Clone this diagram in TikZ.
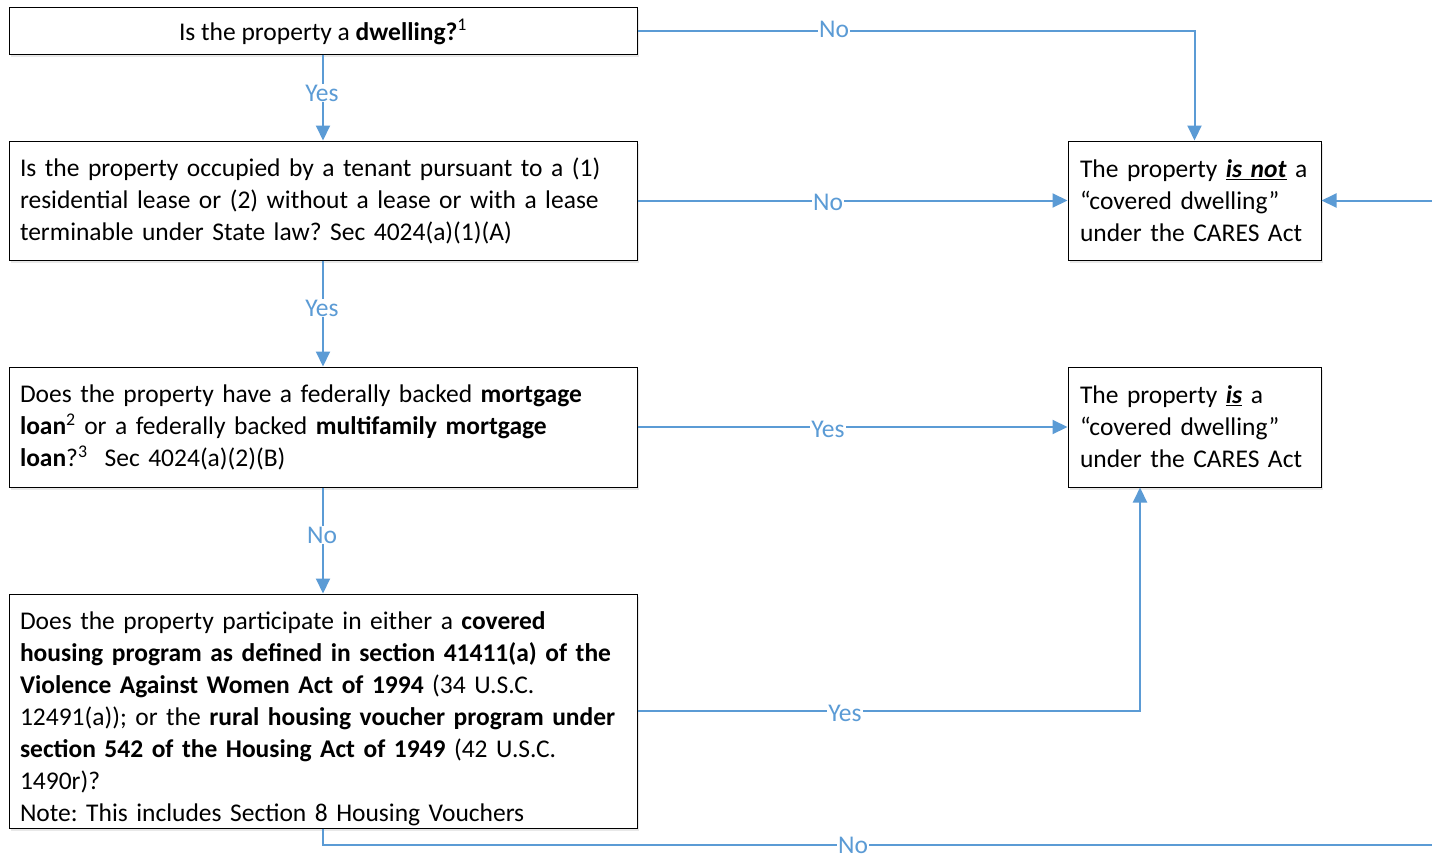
\documentclass[tikz,border=0pt]{standalone}
\usepackage{fontspec}
\setmainfont{Carlito}
\usetikzlibrary{arrows.meta,shadows}
\definecolor{lineblue}{HTML}{5B9BD5}
\frenchspacing
\begin{document}
\begin{tikzpicture}[x=1pt,y=-1pt,
  txt/.style={font=\fontsize{25.5}{32}\selectfont},
  box/.style={txt, draw=black, line width=1pt, fill=white,
    drop shadow={opacity=0.18, shadow xshift=2pt, shadow yshift=-3pt},
    inner xsep=11pt, inner ysep=0pt, align=left},
  conn/.style={draw=lineblue, line width=2pt, -{Triangle[length=15pt,width=14pt]}},
  lbl/.style={txt, fill=white, text=lineblue, inner sep=1pt}]
\useasboundingbox (0,0) rectangle (1432,857);
\fill[white] (0,0) rectangle (1432,857);

\node[box, align=center, minimum width=628pt, minimum height=47pt,
      text height=22pt, text depth=3pt] (a) at (323,30.5)
  {Is the property a \textbf{dwelling?}\textsuperscript{1}};
\node[box, text width=606pt, minimum height=119pt] (b) at (323,200.5)
  {Is the property occupied by a tenant pursuant to a (1)\\
   residential lease or (2) without a lease or with a lease\\
   terminable under State law? Sec 4024(a)(1)(A)};
\node[box, text width=606pt, minimum height=120pt] (c) at (323,427)
  {Does the property have a federally backed \textbf{mortgage}\\
   \textbf{loan}\textsuperscript{2} or a federally backed \textbf{multifamily mortgage}\\
   \textbf{loan}?\textsuperscript{3}~ Sec 4024(a)(2)(B)};
\node[box, text width=606pt, minimum height=234pt] (d) at (323,711)
  {\rule{0pt}{34pt}Does the property participate in either a \textbf{covered}\\
   \textbf{housing program as defined in section 41411(a) of the}\\
   \textbf{Violence Against Women Act of 1994} (34 U.S.C.\\
   12491(a)); or the \textbf{rural housing voucher program under}\\
   \textbf{section 542 of the Housing Act of 1949} (42 U.S.C.\\
   1490r)?\\
   Note: This includes Section 8 Housing Vouchers};
\node[box, text width=229pt, inner xsep=12pt, minimum height=119pt] (nc) at (1194.5,200.5)
  {The property \underline{\textbf{\textit{is not}}} a\\
   “covered dwelling”\\
   under the CARES Act};
\node[box, text width=229pt, inner xsep=12pt, minimum height=120pt] (ic) at (1194.5,427)
  {The property \underline{\textbf{\textit{is}}} a\\
   “covered dwelling”\\
   under the CARES Act};

\coordinate (ictarget) at ([xshift=-54.5pt]ic.south);
\coordinate (loopR) at (1450,845);

\draw[conn] (a.east) -| (nc.north);
\draw[conn] (a.south) -- (b.north);
\draw[conn] (b.east) -- (nc.west);
\draw[conn] (b.south) -- (c.north);
\draw[conn] (c.east) -- (ic.west);
\draw[conn] (c.south) -- (d.north);
\draw[conn] (d.east) -| (ictarget);
\draw[conn] (d.south) |- (loopR) |- (nc.east);

\node[lbl] at (834,29) {No};
\node[lbl] at (322,93) {Yes};
\node[lbl] at (828,202) {No};
\node[lbl] at (322,308) {Yes};
\node[lbl] at (828,429) {Yes};
\node[lbl] at (322,535) {No};
\node[lbl] at (845,713) {Yes};
\node[lbl] at (853,845) {No};
\end{tikzpicture}
\end{document}
